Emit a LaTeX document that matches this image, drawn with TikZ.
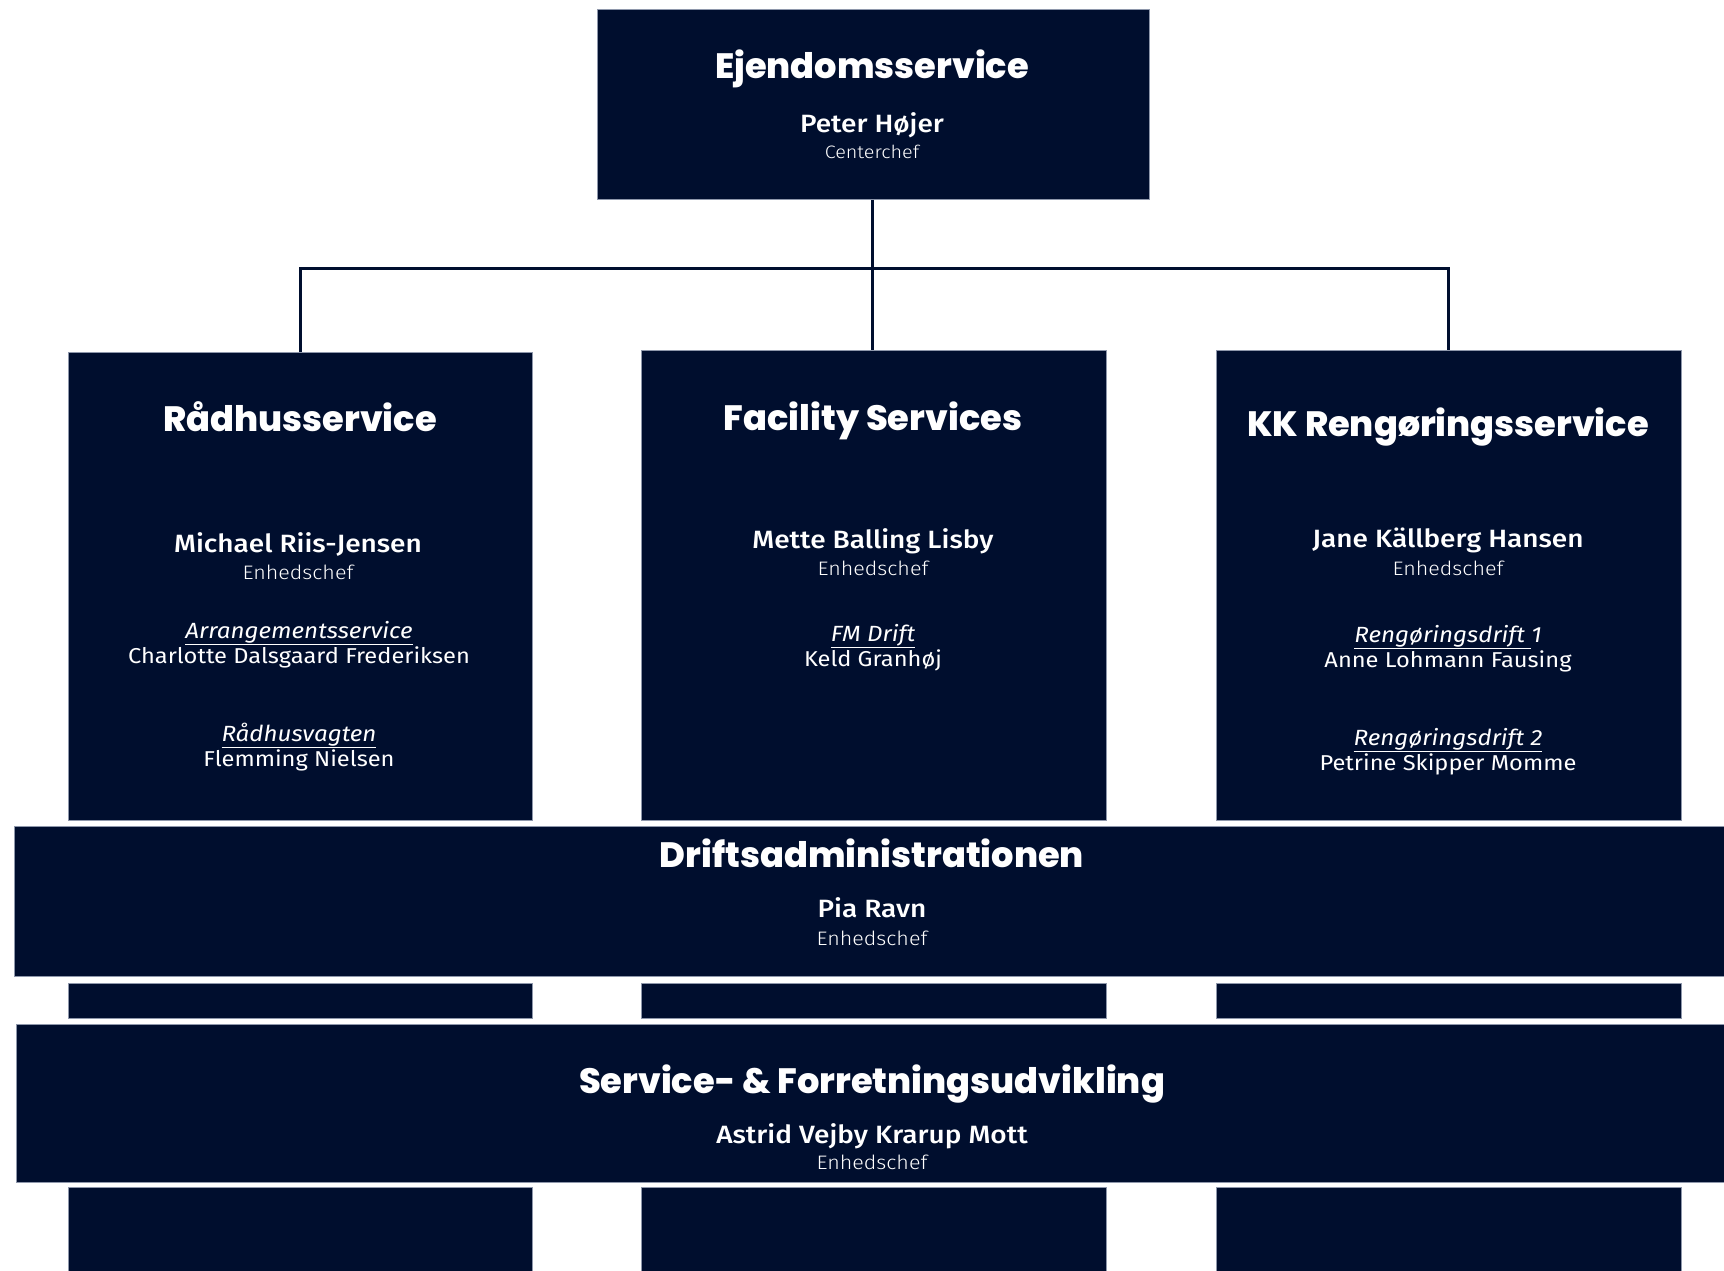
\documentclass[tikz,border=0pt]{standalone}
\usepackage{fontspec}
\setmainfont{Fira Sans}
\newfontfamily\headfont{Poppins}[BoldFont=* ExtraBold]
\newfontfamily\namefont{Fira Sans}[UprightFont=* Medium, FakeStretch=1.12]
\newfontfamily\unitfont{Fira Sans}[FakeStretch=1.1]
\newfontfamily\lightfont{Fira Sans}[UprightFont=* Light, FakeStretch=1.1]
\definecolor{navy}{HTML}{000E2E}
\definecolor{edge}{HTML}{8E97AB}
\begin{document}
\begin{tikzpicture}[x=1pt,y=-1pt,
  box/.style={fill=navy,draw=edge,line width=0.8pt,anchor=north west,inner sep=0pt},
  conn/.style={draw=navy,line width=3pt},
  head/.style={text=white,font=\headfont\bfseries\fontsize{35.2}{40}\selectfont,anchor=base,inner sep=0pt},
  pname/.style={text=white,font=\namefont\fontsize{25}{29}\selectfont,anchor=base,inner sep=0pt},
  prole/.style={text=white,font=\lightfont\fontsize{19.5}{23}\selectfont,anchor=base,inner sep=0pt},
  unit/.style={text=white,font=\unitfont\itshape\fontsize{22}{26}\selectfont,anchor=base,inner sep=0pt},
  uname/.style={text=white,font=\unitfont\fontsize{21.5}{25}\selectfont,anchor=base,inner sep=0pt}]
\useasboundingbox (0,0) rectangle (1724,1270);
\fill[white] (0,0) rectangle (1724,1270);
% boxes
\node[box,minimum width=552pt,minimum height=190pt] (top) at (597,9) {};
\node[box,minimum width=464pt,minimum height=468pt] (rad) at (68,352) {};
\node[box,minimum width=465pt,minimum height=470pt] (fac) at (641,350) {};
\node[box,minimum width=465pt,minimum height=470pt] (kk) at (1216,350) {};
\node[box,minimum width=1716pt,minimum height=150pt] (drift) at (14,826) {};
\node[box,minimum width=464pt,minimum height=35pt] (s1) at (68,983) {};
\node[box,minimum width=465pt,minimum height=35pt] (s2) at (641,983) {};
\node[box,minimum width=465pt,minimum height=35pt] (s3) at (1216,983) {};
\node[box,minimum width=1714pt,minimum height=158pt] (serv) at (16,1024) {};
\node[box,minimum width=464pt,minimum height=90pt] (b1) at (68,1187) {};
\node[box,minimum width=465pt,minimum height=90pt] (b2) at (641,1187) {};
\node[box,minimum width=465pt,minimum height=90pt] (b3) at (1216,1187) {};
% connectors
\coordinate (j) at (872,268);
\draw[conn] (top.south -| j) -- (j);
\draw[conn] (rad.north) |- (j) -| (kk.north);
\draw[conn] (j) -- (fac.north -| j);
% top
\node[head] (t1) at (872,78) {Ejendomsservice};
\node[pname] (t2) at (872,132) {Peter Højer};
\node[prole,font=\lightfont\fontsize{18}{22}\selectfont] (t3) at (872,158) {Centerchef};
% Raadhusservice
\node[head] (r1) at (300,431) {Rådhusservice};
\node[pname] (r2) at (298,552) {Michael Riis-Jensen};
\node[prole] (r3) at (298,579) {Enhedschef};
\node[unit] (r4) at (299,638) {\underline{Arrangementsservice}};
\node[uname] (r5) at (299,663) {Charlotte Dalsgaard Frederiksen};
\node[unit] (r6) at (299,741) {\underline{Rådhusvagten}};
\node[uname] (r7) at (299,766) {Flemming Nielsen};
% Facility
\node[head] (f1) at (873,430) {Facility Services};
\node[pname] (f2) at (873,548) {Mette Balling Lisby};
\node[prole] (f3) at (873,575) {Enhedschef};
\node[unit] (f4) at (873,641) {\underline{FM Drift}};
\node[uname] (f5) at (873,666) {Keld Granhøj};
% KK
\node[head] (k1) at (1448,436) {KK Rengøringsservice};
\node[pname] (k2) at (1448,547) {Jane Källberg Hansen};
\node[prole] (k3) at (1448,575) {Enhedschef};
\node[unit] (k4) at (1448,642) {\underline{Rengøringsdrift }1};
\node[uname] (k5) at (1448,667) {Anne Lohmann Fausing};
\node[unit] (k6) at (1448,745) {\underline{Rengøringsdrift 2}};
\node[uname] (k7) at (1448,770) {Petrine Skipper Momme};
% Driftsadministrationen
\node[head] (d1) at (872,867) {Driftsadministrationen};
\node[pname] (d2) at (872,917) {Pia Ravn};
\node[prole] (d3) at (872,945) {Enhedschef};
% Service
\node[head] (v1) at (872,1093) {Service- \& Forretningsudvikling};
\node[pname] (v2) at (872,1143) {Astrid Vejby Krarup Mott};
\node[prole] (v3) at (872,1169) {Enhedschef};
\end{tikzpicture}
\end{document}
